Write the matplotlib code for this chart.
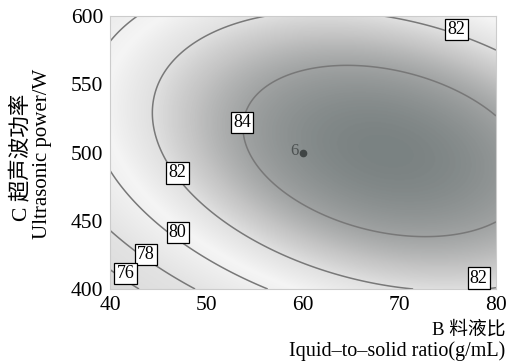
import numpy as np
import matplotlib
matplotlib.use("Agg")
import matplotlib.pyplot as plt
from matplotlib.colors import LinearSegmentedColormap, Normalize

# Quadratic response-surface model in coded units
# b = (B-60)/20 , c = (C-500)/100
coef_names = ["b0", "B", "C", "BC", "B2", "C2"]
coef_vals = [84.755, 2.048, 0.728, -1.519, -2.354, -3.296]

levels = [76, 78, 80, 82, 84]
label_levels = [84, 82, 82, 82, 80, 78, 76]
B_range = [40, 80]
C_range = [400, 600]
x_ticks = [40, 50, 60, 70, 80]
y_ticks = [400, 450, 500, 550, 600]
center_point = (60, 500)
center_count = "6"

SERIF = ["Liberation Serif", "Noto Sans CJK SC"]

fig = plt.figure(figsize=(5.21, 3.63), dpi=100)
ax = fig.add_axes([110/521, 1-289/363, 386/521, 273/363])

B = np.linspace(B_range[0], B_range[1], 400)
C = np.linspace(C_range[0], C_range[1], 400)
BB, CC = np.meshgrid(B, C)
bb = (BB - 60) / 20
cc = (CC - 500) / 100
k = dict(zip(coef_names, coef_vals))
Z = (k["b0"] + k["B"]*bb + k["C"]*cc + k["BC"]*bb*cc
     + k["B2"]*bb**2 + k["C2"]*cc**2)

vmin, vmax = 73.0, 85.3
anchors = [(73.0, (0.84, 0.84, 0.84)), (78.0, (0.89, 0.89, 0.89)),
           (80.6, (0.96, 0.96, 0.96)), (82.0, (0.88, 0.88, 0.88)),
           (83.0, (0.77, 0.77, 0.77)), (84.0, (0.63, 0.64, 0.64)),
           (85.3, (0.47, 0.50, 0.50))]
cmap = LinearSegmentedColormap.from_list(
    "rsm", [((v - vmin)/(vmax - vmin), col) for v, col in anchors])
ax.imshow(Z, origin="lower", extent=[B_range[0], B_range[1], C_range[0], C_range[1]],
          cmap=cmap, norm=Normalize(vmin, vmax), aspect="auto", interpolation="bilinear")

cs = ax.contour(BB, CC, Z, levels, colors=[(0.47, 0.47, 0.47)], linewidths=1.1)

# contour label placement (layout)
label_xy = [(53.7, 522), (47.0, 485), (75.9, 590), (78.2, 408),
            (47.0, 441.5), (43.7, 425.5), (41.6, 411.5)]
for (lx, ly), lv in zip(label_xy, label_levels):
    ax.text(lx, ly, f"{lv}", ha="center", va="center", fontsize=13, family=SERIF,
            color="black", zorder=5, clip_on=False,
            bbox=dict(facecolor="white", edgecolor="black", linewidth=0.9,
                      boxstyle="square,pad=0.12"))

ax.plot([center_point[0]], [center_point[1]], marker="o", markersize=4.5,
        color=(0.25, 0.27, 0.27), linestyle="none")
ax.text(center_point[0] - 0.5, center_point[1] + 1, center_count, ha="right", va="center",
        fontsize=12, color=(0.3, 0.32, 0.32), family=SERIF)

ax.set_xlim(B_range)
ax.set_ylim(C_range)
ax.set_xticks(x_ticks)
ax.set_yticks(y_ticks)
ax.tick_params(length=0, labelsize=15.5, pad=5)
for lab in ax.get_xticklabels() + ax.get_yticklabels():
    lab.set_family(SERIF)
for s in ax.spines.values():
    s.set_color((0.8, 0.8, 0.8))
    s.set_linewidth(0.8)

fig.text(505/521, 1-330/363, "B 料液比", ha="right", va="center", fontsize=13.5, family=SERIF)
fig.text(505/521, 1-351/363, "Iquid\u2013to\u2013solid ratio(g/mL)", ha="right", va="center",
         fontsize=14.5, family=SERIF)
fig.text(21/521, 1-157/363, "C 超声波功率", ha="center", va="center", rotation=90,
         fontsize=15.5, family=SERIF)
fig.text(43/521, 1-154/363, "Ultrasonic power/W", ha="center", va="center", rotation=90,
         fontsize=15, family=SERIF)

fig.savefig("out.png")
